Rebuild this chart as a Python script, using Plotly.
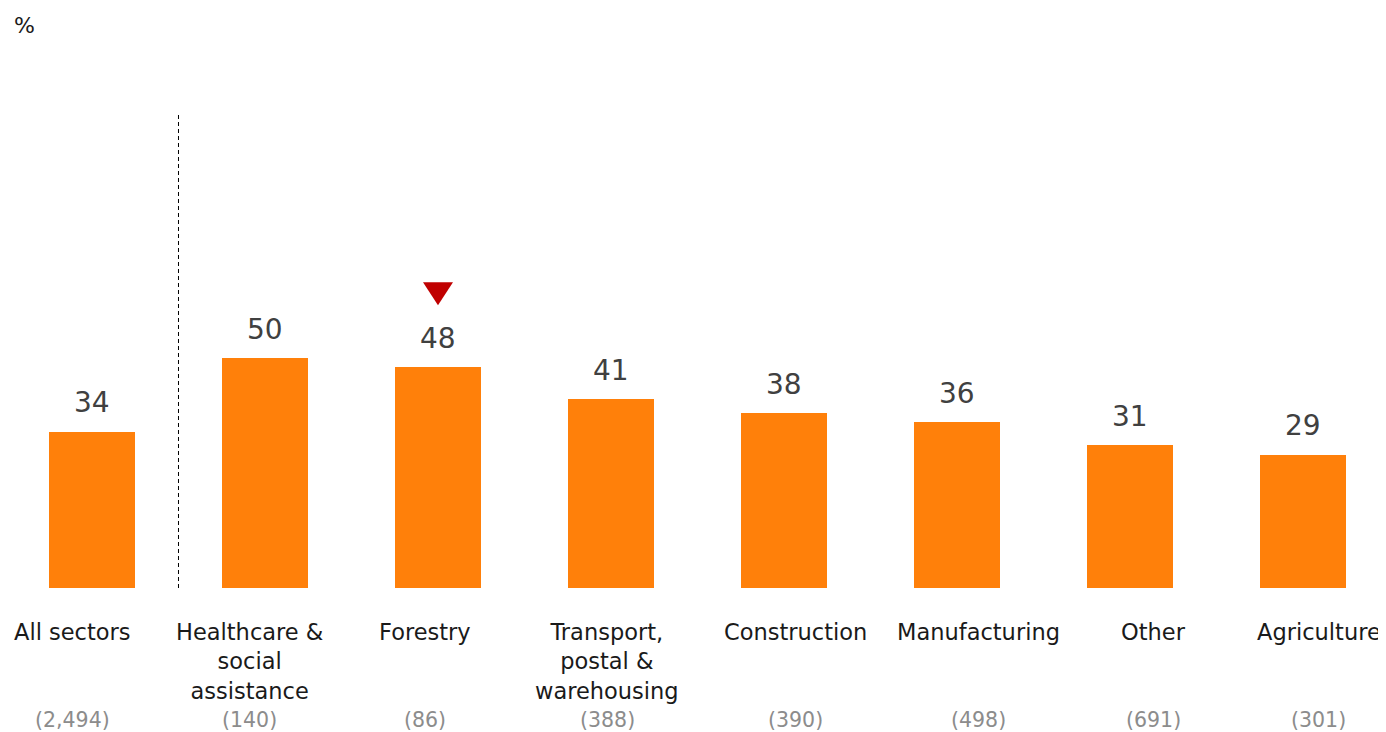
import plotly.graph_objects as go

categories = ["All sectors", "Healthcare &<br>social<br>assistance", "Forestry",
              "Transport,<br>postal &<br>warehousing", "Construction", "Manufacturing",
              "Other", "Agriculture"]
values = [34, 50, 48, 41, 38, 36, 31, 29]
counts = ["(2,494)", "(140)", "(86)", "(388)", "(390)", "(498)", "(691)", "(301)"]
flagged_index = 2  # red marker above Forestry

# label horizontal nudges (data units) to mirror the original text-box placement
label_offsets = [-0.11, -0.087, -0.075, -0.023, 0.064, 0.127, 0.133, 0.092]

FONT = "Century Gothic, DejaVu Sans, sans-serif"
x = list(range(len(values)))

fig = go.Figure()
fig.add_trace(go.Bar(x=x, y=values, width=0.5, marker=dict(color="#FF800A", line=dict(width=0)),
                     hoverinfo="skip"))

annotations = []
for i, v in enumerate(values):
    annotations.append(dict(x=i, y=v, xref="x", yref="y", text=str(v), showarrow=False,
                            yanchor="middle", yshift=29,
                            font=dict(family=FONT, size=28, color="#404040")))
    annotations.append(dict(x=i + label_offsets[i], y=0, xref="x", yref="y", text=categories[i],
                            showarrow=False, yanchor="top", yshift=-29, align="center",
                            font=dict(family=FONT, size=22.5, color="#1a1a1a")))
    annotations.append(dict(x=i + label_offsets[i], y=0, xref="x", yref="y", text=counts[i],
                            showarrow=False, yanchor="middle", yshift=-132,
                            font=dict(family=FONT, size=20.5, color="#8c8c8c")))

annotations.append(dict(x=0, y=1, xref="paper", yref="paper", text="%", showarrow=False,
                        xanchor="left", yanchor="middle", xshift=4, yshift=3,
                        font=dict(family=FONT, size=22, color="#1a1a1a")))

shapes = [
    dict(type="line", xref="x", yref="y", x0=0.5, x1=0.5, y0=0, y1=103,
         line=dict(color="#000000", width=1, dash="4px,3px")),
    dict(type="path", xref="x", yref="y", xsizemode="pixel", ysizemode="pixel",
         xanchor=flagged_index, yanchor=values[flagged_index],
         path="M -15,85 L 15,85 L 0,62 Z", fillcolor="#C00000", line=dict(width=0)),
]

fig.update_layout(
    width=1378, height=724,
    margin=dict(l=0, r=0, t=20, b=144),
    paper_bgcolor="white", plot_bgcolor="white",
    showlegend=False,
    xaxis=dict(range=[-0.4855, 7.4798], visible=False, fixedrange=True),
    yaxis=dict(range=[0, 121.74], visible=False, fixedrange=True),
    annotations=annotations, shapes=shapes,
    bargap=0,
)

fig.write_html("out.html")
